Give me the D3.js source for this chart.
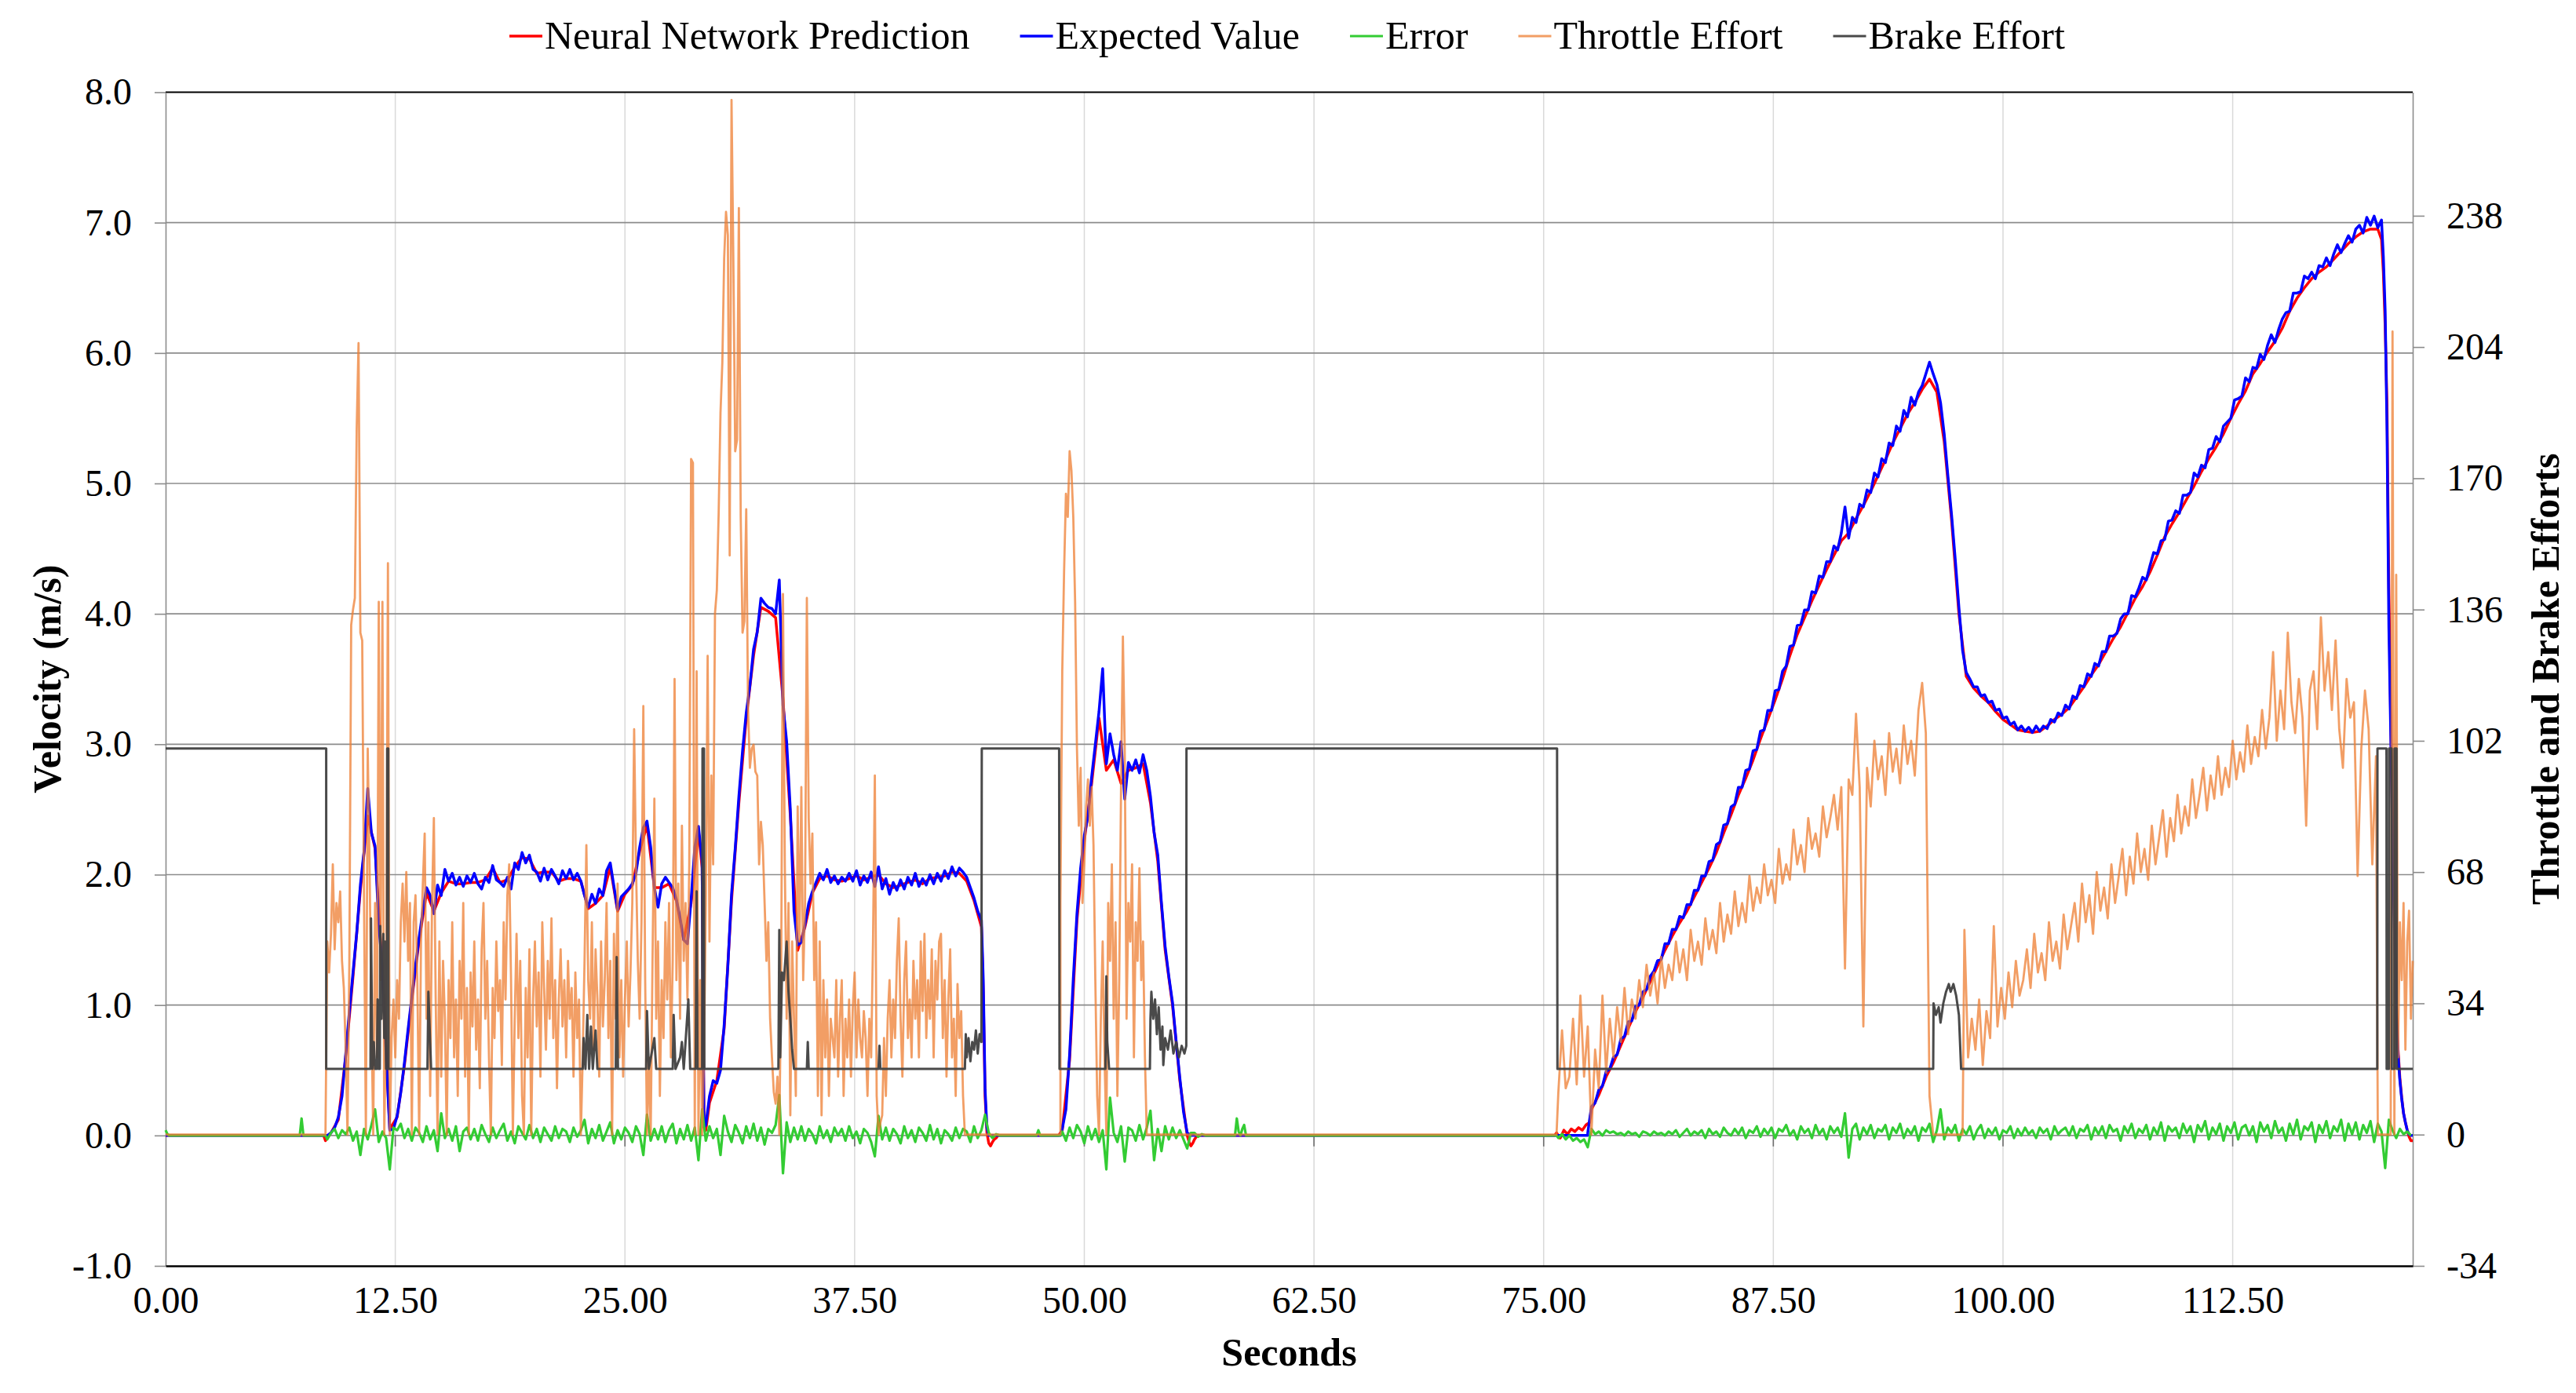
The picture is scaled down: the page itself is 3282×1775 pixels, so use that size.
<!DOCTYPE html>
<html>
<head>
<meta charset="utf-8">
<script src="https://cdn.jsdelivr.net/npm/d3@7"></script>
<style>
  html, body { margin: 0; padding: 0; background: #ffffff; }
  svg { display: block; }
</style>
</head>
<body>
<svg id="chart" width="3282" height="1775"></svg>
<script>
// ---------------- DATA ----------------
const seriesLabels = ["Neural Network Prediction", "Expected Value", "Error", "Throttle Effort", "Brake Effort"];
const timeTicks = [0, 12.5, 25, 37.5, 50, 62.5, 75, 87.5, 100, 112.5];
const velocityTicks = [-1, 0, 1, 2, 3, 4, 5, 6, 7, 8];
const effortTicks = [-34, 0, 34, 68, 102, 136, 170, 204, 238];
const timeDomain = [0, 122.3];
const velocityDomain = [-1, 8];
const effortDomain = [-34, 270];

// Each run: [startTime, timeStep, value, value, ...]
const expectedRuns = [
  [0, 8.8, 0, 0],
  [9.0, 0.2,
    0.02,0.06,0.14,0.30,0.62,0.95,1.25,1.55,1.92,2.18,
    2.66,2.32,2.22,1.62,1.28,0.62,0.04,0.05,0.15,0.33,
    0.56,0.82,1.06,1.30,1.52,1.72,1.90,1.84,1.70,1.92,
    1.84,2.04,1.95,2.01,1.92,1.98,1.91,1.99,1.94,2.01,
    1.93,1.89,1.98,1.94,2.07,1.96,1.94,1.91,1.98,1.89,
    2.09,2.04,2.17,2.09,2.15,2.04,2.02,1.95,2.05,1.96,
    2.04,1.99,1.93,2.03,1.97,2.04,1.96,2.01,1.95,1.84,
    1.75,1.85,1.78,1.89,1.84,2.03,2.09,1.91,1.73,1.83,
    1.86,1.89,1.93,2.01,2.21,2.36,2.41,2.21,1.90,1.75,
    1.93,1.98,1.94,1.90,1.81,1.67,1.50,1.47,1.81,2.21,
    2.37,2.10],
  [29.3, 0.1, 0.06, 0.08],
  [29.6, 0.2,
    0.30,0.42,0.40,0.50,0.85,1.30,1.85,2.20,2.60,2.95,
    3.24,3.45,3.73,3.86,4.12,4.08,4.05,4.04,4.00,4.26,
    3.30,3.02,2.50,1.72,1.46,1.48,1.62,1.78,1.87,1.94,
    2.01,1.96,2.04,1.94,1.99,1.93,1.98,1.95,2.01,1.95,
    2.03,1.92,1.99,1.94,2.02,1.91,2.06,1.89,1.97,1.85,
    1.94,1.88,1.96,1.89,1.98,1.92,2.01,1.91,1.97,1.92,
    2.00,1.93,2.01,1.95,2.03,1.97,2.06,1.99,2.05,2.02,
    1.98,1.90,1.82,1.72,1.65],
  [44.5, 0.1, 1.20, 0.35, 0.06, 0.0],
  [44.8, 3.9, 0, 0],
  [48.8, 0.2,
    0.05,0.20,0.62,1.20,1.70,2.05,2.30,2.45,2.75,3.00,
    3.25,3.58,2.85,3.08,2.92,2.80,3.02,2.58,2.86,2.80,
    2.88,2.78,2.92,2.80,2.60,2.32,2.15,1.78,1.45,1.22,
    1.02,0.72,0.44,0.18,0.02,0.00],
  [55.8, 21.6, 0, 0],
  [77.4, 0.2,
    0.02,0.22,0.25,0.35,0.38,0.49,0.51,0.60,0.62,0.74,
    0.76,0.87,0.88,0.99,1.00,1.10,1.12,1.22,1.26,1.34,
    1.35,1.47,1.47,1.58,1.58,1.68,1.67,1.77,1.77,1.88,
    1.88,1.99,1.99,2.10,2.11,2.23,2.25,2.38,2.39,2.52,
    2.54,2.67,2.67,2.80,2.81,2.95,2.96,3.10,3.11,3.26,
    3.26,3.41,3.42,3.56,3.60,3.75,3.76,3.91,3.92,4.03,
    4.03,4.17,4.16,4.29,4.28,4.40,4.40,4.52,4.49,4.62,
    4.82,4.58,4.74,4.70,4.84,4.82,4.95,4.93,5.08,5.05,
    5.19,5.16,5.31,5.29,5.44,5.40,5.56,5.51,5.66,5.60,
    5.70,5.75,5.84,5.93,5.84,5.76,5.62,5.38,5.06,4.76,
    4.42,4.05,3.72,3.55,3.50,3.44,3.44,3.37,3.38,3.32,
    3.33,3.26,3.27,3.20,3.21,3.15,3.17,3.11,3.14,3.10,
    3.13,3.09,3.14,3.10,3.14,3.12,3.19,3.17,3.24,3.22,
    3.30,3.27,3.37,3.35,3.45,3.44,3.54,3.52,3.62,3.60,
    3.71,3.71,3.83,3.83,3.85,3.96,4.00,4.00,4.14,4.13,
    4.20,4.28,4.26,4.37,4.47,4.46,4.56,4.57,4.71,4.72,
    4.79,4.77,4.91,4.91,4.93,5.08,5.05,5.14,5.12,5.26,
    5.27,5.36,5.32,5.44,5.47,5.50,5.64,5.65,5.67,5.81,
    5.78,5.89,5.88,5.99,5.95,6.06,6.14,6.08,6.18,6.26,
    6.31,6.32,6.46,6.46,6.47,6.59,6.57,6.62,6.57,6.67,
    6.66,6.73,6.67,6.76,6.83,6.77,6.84,6.90,6.85,6.95,
    6.98,6.92,7.04,6.98,7.05,6.96,7.02],
  [120.7, 0.1, 6.74,6.32,5.40,3.90,3.10,2.30,1.60,0.95,0.62,0.42,0.28,0.17,0.10,0.04,0.01,0.0,0.0]
];

const predictionRuns = [
  [0, 8.6, 0, 0],
  [8.7, 0.1, -0.04, -0.01],
  [9.0, 0.4,
    0.02,0.12,0.60,1.22,1.88,2.45,2.20,1.25,0.05,0.14,
    0.54,1.04,1.50,1.86,1.72,1.86,1.95,1.93,1.93,1.94,
    1.94,1.96,2.05,1.94,1.96,2.06,2.13,2.12,2.01,2.02,
    2.02,1.95,1.97,1.97,1.95,1.74,1.78,1.84,2.06,1.72,
    1.85,1.92,2.18,2.38,1.90,1.90,1.93,1.80,1.50,1.78,
    2.34],
  [29.2, 0.1, 2.05, 0.10, 0.04],
  [29.6, 0.4,
    0.25,0.42,0.82,1.80,2.55,3.20,3.68,4.05,4.02,3.97,
    3.35,2.45,1.42,1.60,1.86,1.97,1.99,1.96,1.95,1.97,
    1.99,1.96,1.98,2.00,1.93,1.90,1.92,1.94,1.96,1.93,
    1.97,1.98,1.99,2.02,2.01,1.95,1.80,1.60],
  [44.5, 0.1, 1.10, 0.30, 0.02, -0.06, -0.08, -0.05, -0.03, -0.02, 0.0],
  [45.3, 3.3, 0, 0],
  [48.8, 0.4,
    0.04,0.58,1.65,2.26,2.70,3.20,2.80,2.88,2.70,2.80,
    2.82,2.85,2.55,2.10,1.42,1.00,0.42,0.00],
  [55.7, 0.1, -0.05, -0.08, -0.06, -0.03, -0.01, 0.0],
  [56.2, 19.4, 0, 0],
  [75.7, 0.2, 0.02, -0.02, 0.04, 0.01, 0.05, 0.03, 0.06, 0.04, 0.08, 0.10],
  [77.6, 0.4,
    0.20,0.31,0.45,0.56,0.69,0.82,0.95,1.06,1.18,1.30,
    1.42,1.53,1.63,1.72,1.83,1.94,2.05,2.17,2.32,2.46,
    2.61,2.74,2.88,3.04,3.19,3.34,3.50,3.68,3.84,3.97,
    4.10,4.22,4.34,4.45,4.56,4.62,4.73,4.83,4.94,5.06,
    5.18,5.31,5.42,5.53,5.62,5.72,5.80,5.70,5.32,4.72,
    4.00,3.52,3.43,3.37,3.32,3.25,3.19,3.15,3.11,3.10,
    3.09,3.10,3.14,3.19,3.23,3.28,3.36,3.44,3.53,3.61,
    3.71,3.81,3.90,4.01,4.12,4.21,4.32,4.45,4.59,4.69,
    4.78,4.88,4.98,5.09,5.19,5.28,5.38,5.50,5.61,5.71,
    5.84,5.92,6.01,6.09,6.19,6.32,6.42,6.50,6.57,6.62,
    6.66,6.72,6.78,6.84,6.89,6.93,6.95,6.95],
  [120.6, 0.1, 6.87,6.62,6.20,5.60,4.20,3.20,2.40,1.70,1.05,0.66,0.44,0.29,0.17,0.10,0.04,-0.01,-0.04,-0.04]
];

const errorRuns = [
  [0, 0.1, 0.04, 0.01, 0.0],
  [0.2, 7.1, 0, 0],
  [7.4, 0.1, 0.13, 0.0],
  [7.5, 1.2, 0, 0],
  [8.8, 0.2,
    -0.03,0.02,0.05,-0.02,0.04,0.01,0.06,-0.04,0.03,-0.15,
    0.05,-0.03,0.08,0.20,-0.05,0.03,-0.02,-0.26,0.06,0.04,
    0.09,-0.02,0.05,-0.04,0.06,0.02,-0.05,0.07,-0.03,0.04,
    -0.12,0.17,-0.02,0.05,-0.04,0.07,-0.12,0.03,0.06,-0.03,
    0.05,-0.04,0.08,0.01,-0.05,0.06,-0.02,0.04,0.09,-0.04,
    0.03,-0.06,0.07,0.02,-0.03,0.08,-0.02,0.05,-0.05,0.06,
    0.01,-0.04,0.07,-0.02,0.05,0.03,-0.05,0.06,-0.01,0.04,
    0.12,-0.06,0.05,-0.02,0.08,-0.04,0.03,0.10,-0.06,0.04,
    -0.03,0.06,0.02,-0.05,0.07,0.01,-0.15,0.16,-0.04,0.05,
    -0.03,0.07,-0.05,0.04,0.09,-0.06,0.05,-0.03,0.08,-0.04,
    0.06,-0.19,0.20,-0.04,0.07,-0.02,0.05,-0.15,0.15,0.03,
    -0.05,0.08,0.02,-0.06,0.07,-0.02,0.09,-0.04,0.06,-0.07,
    0.05,0.02,0.08,0.31,-0.29,0.10,-0.05,0.06,-0.03,0.07,
    -0.04,0.05,0.01,-0.06,0.07,-0.02,0.04,-0.05,0.06,0.00,
    0.05,-0.04,0.07,-0.02,0.03,-0.06,0.05,0.02,-0.05,-0.16,
    0.15,-0.03,0.06,-0.04,0.05,0.01,-0.06,0.07,-0.02,0.04,
    -0.05,0.06,0.02,-0.04,0.08,-0.03,0.05,-0.06,0.04,0.01,
    -0.04,0.06,-0.02,0.05,0.03,-0.05,0.07,-0.02,0.04,0.16,
    0.02],
  [45.0, 0.2, -0.02, 0.01, 0.0],
  [45.4, 2.0, 0, 0],
  [47.5, 0.1, 0.04, 0.0],
  [47.6, 1.1, 0, 0],
  [48.8, 0.2,
    0.03,-0.04,0.06,-0.02,0.08,0.03,-0.06,0.07,-0.03,0.05,
    -0.05,0.04,-0.26,0.29,0.02,-0.05,0.07,-0.20,0.06,0.04,
    -0.04,0.08,-0.03,0.06,0.19,-0.19,0.05,-0.12,0.07,-0.03,
    0.06,-0.02,0.04,-0.03,-0.10,0.02],
  [56.0, 0.2, 0.02, -0.01, 0.01, 0.0],
  [56.6, 1.6, 0, 0],
  [58.3, 0.1, 0.13, 0.03, 0.0, 0.05, 0.08, 0.0],
  [58.8, 16.9, 0, 0],
  [75.8, 0.2,
    -0.02,0.01,-0.03,0.00,-0.04,-0.02,-0.05,-0.03,-0.09,
    0.05,0.01,0.03,0.00,0.04,0.02,0.03,0.01,0.02,0.00,
    0.03,0.01,0.02,-0.01,0.03,0.02,0.00,0.03,0.01,0.02,
    0.00,0.03,0.01,0.04,-0.01,0.02,0.05,0.00,0.03,0.01,
    0.04,-0.02,0.05,0.01,0.03,-0.01,0.06,0.02,0.00,0.05,
    0.01,0.06,-0.02,0.04,0.02,0.07,-0.01,0.05,0.01,0.06,
    -0.02,0.05,0.03,0.08,0.00,0.04,-0.03,0.07,0.02,0.05,
    -0.02,0.08,0.01,0.05,-0.03,0.07,0.02,0.06,-0.01,0.17,
    -0.17,0.05,0.09,-0.03,0.06,0.01,0.08,-0.02,0.05,0.03,
    0.08,-0.03,0.06,0.02,0.09,-0.02,0.05,0.01,0.07,-0.04,
    0.06,0.03,0.09,-0.05,0.04,0.20,-0.03,0.06,0.02,0.08,
    -0.04,0.05,0.01,0.07,-0.03,0.04,0.08,-0.02,0.05,0.01,
    0.06,-0.03,0.04,0.02,0.07,-0.02,0.05,0.00,0.06,0.01,
    0.04,-0.02,0.06,0.02,0.05,-0.03,0.07,0.01,0.04,0.06,
    0.00,0.07,-0.02,0.05,0.03,0.08,-0.03,0.06,0.01,0.07,
    -0.02,0.08,0.03,0.05,-0.04,0.07,0.02,0.09,-0.02,0.05,
    0.02,0.08,-0.03,0.06,0.01,0.10,-0.04,0.07,0.03,0.06,
    -0.02,0.09,0.02,0.07,-0.05,0.08,0.03,0.11,-0.03,0.06,
    0.01,0.09,-0.04,0.07,0.02,0.10,-0.03,0.06,0.08,0.00,
    0.07,-0.05,0.10,0.03,0.08,-0.02,0.11,0.02,0.06,-0.04,
    0.09,0.01,0.12,-0.03,0.07,0.04,0.10,-0.05,0.08,0.02,
    0.11,-0.02,0.07,0.03,0.12,-0.04,0.09,0.01,0.10,-0.03,
    0.08,0.02,0.11,-0.05,0.09,0.03,-0.25,0.12,0.04,-0.02,
    0.05,0.01,0.03,0.00]
];

const throttleRuns = [
  [0, 8.7, 0, 0],
  [8.8, 0.1,
    50,42,52,70,48,60,55,63,45,38,
    22,0,45,132,136,139,183,205,130,128,
    60,0,100,70,30,0,60,20,138,40,
    138,0,30,148,0,25,35,20,40,30,
    55,65,50,68,45,60,0,55,62,40,
    0,50,65,78,30,55,10,60,82,35,
    0,50,15,45,30,0,40,25,55,20,
    35,10,45,30,60,15,38,0,42,28,
    50,22,35,12,48,60,30,45,20,0,
    38,25,50,32,40,18,55,35,62,70,
    40,0,30,52,25,45,10,0,38,20,
    48,0,35,50,28,42,15,55,38,22,
    45,30,56,25,40,12,35,48,28,40,
    20,45,30,38,15,42,25,35,0,20,
    45,75,40,30,55,22,48,35,15,50,
    28,40,60,25,45,0,52,30,65,20,
    40,15,35,50,28,42,60,105,70,45,
    30,55,111,40,0,20,0,45,87,30,
    50,10,40,25,55,35,60,20,45,118,
    40,65,30,80,45,60,35,70,175,174,
    0,120,0,40,0,20,60,124,50,93,
    70,135,141,161,187,200,227,239,233,150,
    268,226,177,180,240,160,130,133,162,110,
    95,100,101,94,93,70,81,75,60,45,
    55,30,20,11,8,15,0,40,140,70,
    30,60,5,50,30,10,85,50,90,40,
    60,139,82,65,78,40,55,10,50,5,
    40,20,35,10,30,25,20,40,15,30,
    40,10,30,20,35,15,33,42,20,35,
    25,20,32,25,10,30,20,50,93,10,
    0,3,5,25,10,30,40,20,35,25,
    45,56,30,15,40,50,25,35,20,45,
    30,40,20,50,32,52,25,40,30,48,
    20,45,35,50,52,25,40,15,35,48,
    20,30,10,39,25,32,10,0,0,0],
  [43.7, 5.0, 0, 0],
  [48.7, 0.1,
    60,120,146,166,160,177,172,160,138,100,
    80,95,60,70,85,92,80,90,75,40,
    10,0,30,50,20,0,60,45,70,30,
    55,10,40,90,129,100,30,60,50,70,
    20,55,45,69,40,50,20,0,0],
  [53.5, 22.2, 0, 0],
  [75.8, 0.2,
    11,27,12,15,30,13,36,15,28,0,
    22,12,36,16,30,20,33,24,38,26,
    35,30,40,33,44,36,42,34,46,38,
    44,40,50,42,48,40,53,45,50,44,
    56,48,53,47,60,50,57,52,63,54,
    60,55,67,58,64,60,70,62,66,60,
    74,65,70,66,79,70,75,68,82,74,
    78,72,85,77,82,88,79,90,43,92,
    88,109,90,28,95,85,102,92,98,88,
    104,94,100,91,106,96,102,93,110,117,
    104,10],
  [96.2, 1.6, 0, 0],
  [97.9, 0.2,
    53,20,30,22,35,18,32,25,54,28,
    38,30,42,33,45,36,40,48,38,52,
    42,47,40,55,45,50,43,57,48,54,
    60,50,65,55,62,52,68,58,64,56,
    70,60,67,74,62,72,65,78,68,74,
    66,80,70,77,84,72,82,76,88,78,
    85,80,92,82,88,95,84,93,87,98,
    88,95,90,102,92,99,94,106,96,103,
    98,110,100,108,125,102,115,105,130,112,
    104,118,108,80,115,120,105,134,115,125,
    110,128,105,95,118,108,112,67,100,115,
    105,70,98],
  [120.4, 0.1, 0,0,0,0,0,0,0,0,208,0,145,20,55,40,60,22,50,58,30,45]
];

// Brake effort: [time, value] points (steps drawn as vertical segments)
const brakePoints = [
  [0,100],[8.74,100],[8.74,17],[11.15,17],[11.18,56],[11.25,17],[11.33,24],[11.4,17],
  [11.5,17],[11.54,35],[11.6,17],[11.66,17],[11.68,54],[11.75,30],[11.85,52],[11.9,25],
  [11.95,50],[12.0,17],[12.05,17],[12.06,100],[12.12,100],[12.13,17],
  [14.25,17],[14.3,37],[14.45,17],[22.7,17],[22.75,25],[22.85,17],[22.95,31],[23.05,17],
  [23.15,28],[23.25,17],[23.4,27],[23.5,17],[24.5,17],[24.55,46],[24.62,17],
  [26.15,17],[26.2,32],[26.3,17],[26.6,25],[26.7,17],[27.6,17],[27.65,31],[27.75,17],
  [28.0,20],[28.1,24],[28.2,17],[28.45,35],[28.55,17],[28.85,17],[28.9,63],[28.95,17],
  [29.2,17],[29.22,100],[29.3,100],[29.32,17],
  [33.35,17],[33.4,53],[33.45,20],[33.55,42],[33.65,40],[33.8,50],[33.9,37],[34.0,30],
  [34.1,22],[34.2,17],[34.9,17],[34.95,24],[35.0,17],[38.8,17],[38.85,23],[38.9,17],
  [43.5,17],[43.55,26],[43.6,20],[43.7,25],[43.8,19],[43.9,24],[44.0,22],[44.1,27],
  [44.2,21],[44.3,26],[44.4,24],[44.42,100],[48.63,100],[48.65,17],
  [51.15,17],[51.2,41],[51.25,24],[51.35,17],[53.57,17],[53.6,30],[53.65,37],[53.75,30],
  [53.85,35],[53.95,26],[54.05,33],[54.15,22],[54.25,28],[54.3,18],[54.4,25],[54.55,22],
  [54.7,27],[54.85,21],[55.0,24],[55.15,20],[55.3,23],[55.45,21],[55.55,23],[55.56,100],
  [75.73,100],[75.75,17],[96.2,17],[96.22,34],[96.35,31],[96.5,33],[96.6,29],[96.75,34],
  [96.9,37],[97.05,39],[97.15,37],[97.3,39],[97.45,36],[97.6,31],[97.72,17],
  [120.37,17],[120.38,100],[120.87,100],[120.88,17],[121.0,17],[121.01,100],[121.15,100],
  [121.16,17],[121.3,17],[121.31,100],[121.42,100],[121.43,17],[122.3,17]
];

// ---------------- HELPERS ----------------
function expandRuns(runs) {
  const pts = [];
  runs.forEach(r => {
    const t0 = r[0], dt = r[1];
    for (let i = 2; i < r.length; i++) pts.push([+(t0 + (i - 2) * dt).toFixed(3), r[i]]);
  });
  return pts;
}
const hyphen = f => d => f(d).replace("\u2212", "-");

const predictionData = expandRuns(predictionRuns);
const expectedData = expandRuns(expectedRuns);
const errorData = expandRuns(errorRuns);
const throttleData = expandRuns(throttleRuns);
const brakeData = brakePoints;

// ---------------- LAYOUT / STYLE ----------------
const W = 3282, H = 1775;
const plot = { left: 211, right: 3074, top: 117.5, bottom: 1613 };
const FONT = "'Liberation Serif', 'Times New Roman', Times, serif";
const styles = [
  { color: "#ff0000", width: 3.5, opacity: 1 },
  { color: "#0000ff", width: 3.5, opacity: 1 },
  { color: "#33cc33", width: 3.2, opacity: 1 },
  { color: "#ed7d31", width: 2.8, opacity: 0.75 },
  { color: "#404040", width: 3, opacity: 0.95 }
];

const svg = d3.select("#chart");
svg.append("rect").attr("width", W).attr("height", H).attr("fill", "#ffffff");

const x = d3.scaleLinear().domain(timeDomain).range([plot.left, plot.right]);
const yL = d3.scaleLinear().domain(velocityDomain).range([plot.bottom, plot.top]);
const yR = d3.scaleLinear().domain(effortDomain).range([plot.bottom, plot.top]);

// Gridlines
const grid = svg.append("g");
grid.selectAll("line.vgrid").data(timeTicks.filter(t => t > 0)).join("line")
  .attr("class", "vgrid")
  .attr("x1", d => x(d)).attr("x2", d => x(d))
  .attr("y1", plot.top).attr("y2", plot.bottom)
  .attr("stroke", "#d9d9d9").attr("stroke-width", 1.5);
grid.selectAll("line.hgrid").data(velocityTicks.filter(v => v > velocityDomain[0] && v < velocityDomain[1])).join("line")
  .attr("class", "hgrid")
  .attr("x1", plot.left).attr("x2", plot.right)
  .attr("y1", d => yL(d)).attr("y2", d => yL(d))
  .attr("stroke", "#8c8c8c").attr("stroke-width", 1.6);

// small ticks below the zero line (horizontal axis crosses at 0)
grid.selectAll("line.xtick0").data(timeTicks.filter(t => t > 0)).join("line")
  .attr("class", "xtick0")
  .attr("x1", d => x(d)).attr("x2", d => x(d))
  .attr("y1", yL(0)).attr("y2", yL(0) + 14)
  .attr("stroke", "#6e6e6e").attr("stroke-width", 1.6);

// Top border
svg.append("line").attr("x1", plot.left).attr("x2", plot.right)
  .attr("y1", plot.top).attr("y2", plot.top)
  .attr("stroke", "#000").attr("stroke-width", 2);

// Left axis
const axL = svg.append("g").attr("transform", `translate(${plot.left},0)`)
  .call(d3.axisLeft(yL).tickValues(velocityTicks).tickFormat(hyphen(d3.format(".1f")))
    .tickSize(14).tickSizeOuter(0).tickPadding(29));
axL.select(".domain").attr("stroke", "#8c8c8c").attr("stroke-width", 1.6);
axL.selectAll(".tick line").attr("stroke", "#8c8c8c").attr("stroke-width", 1.6);
axL.selectAll(".tick text").attr("fill", "#000").style("font-family", FONT).style("font-size", "48px");

// Right axis
const axR = svg.append("g").attr("transform", `translate(${plot.right},0)`)
  .call(d3.axisRight(yR).tickValues(effortTicks).tickFormat(hyphen(d3.format("d")))
    .tickSize(15).tickSizeOuter(0).tickPadding(28));
axR.select(".domain").attr("stroke", "#8c8c8c").attr("stroke-width", 1.6);
axR.selectAll(".tick line").attr("stroke", "#8c8c8c").attr("stroke-width", 1.6);
axR.selectAll(".tick text").attr("fill", "#000").style("font-family", FONT).style("font-size", "48px");

// Bottom axis
const axB = svg.append("g").attr("transform", `translate(0,${plot.bottom})`)
  .call(d3.axisBottom(x).tickValues(timeTicks).tickFormat(d3.format(".2f"))
    .tickSize(0).tickSizeOuter(0).tickPadding(0));
axB.select(".domain").attr("stroke", "#000").attr("stroke-width", 2.5);
axB.selectAll(".tick text").attr("fill", "#000").attr("y", 60).attr("dy", "0")
  .style("font-family", FONT).style("font-size", "48px");

// Series
const lineL = d3.line().x(d => x(d[0])).y(d => yL(d[1]));
const lineR = d3.line().x(d => x(d[0])).y(d => yR(d[1]));
const series = [
  { data: predictionData, gen: lineL },
  { data: expectedData, gen: lineL },
  { data: errorData, gen: lineL },
  { data: throttleData, gen: lineR },
  { data: brakeData, gen: lineR }
];
const gSeries = svg.append("g");
series.forEach((s, i) => {
  gSeries.append("path")
    .attr("d", s.gen(s.data))
    .attr("fill", "none")
    .attr("stroke", styles[i].color)
    .attr("stroke-width", styles[i].width)
    .attr("stroke-opacity", styles[i].opacity)
    .attr("stroke-linejoin", "round");
});

// Axis titles
svg.append("text").text("Velocity (m/s)")
  .attr("transform", `translate(59,${(plot.top + plot.bottom) / 2}) rotate(-90)`)
  .attr("text-anchor", "middle").attr("dy", "0.35em")
  .style("font-family", FONT).style("font-size", "50px").style("font-weight", "bold");
svg.append("text").text("Throttle and Brake Efforts")
  .attr("transform", `translate(3242,${(plot.top + plot.bottom) / 2}) rotate(-90)`)
  .attr("text-anchor", "middle").attr("dy", "0.35em")
  .style("font-family", FONT).style("font-size", "50px").style("font-weight", "bold");
svg.append("text").text("Seconds")
  .attr("x", (plot.left + plot.right) / 2).attr("y", 1740)
  .attr("text-anchor", "middle")
  .style("font-family", FONT).style("font-size", "50px").style("font-weight", "bold");

// Legend
const legend = svg.append("g");
let lx = 649;
seriesLabels.forEach((name, i) => {
  legend.append("line")
    .attr("x1", lx).attr("x2", lx + 42).attr("y1", 46).attr("y2", 46)
    .attr("stroke", styles[i].color).attr("stroke-width", styles[i].width)
    .attr("stroke-opacity", styles[i].opacity);
  const t = legend.append("text").text(name)
    .attr("x", lx + 45).attr("y", 62)
    .style("font-family", FONT).style("font-size", "50px").attr("fill", "#000");
  lx = lx + 45 + t.node().getComputedTextLength() + 64;
});
</script>
</body>
</html>
